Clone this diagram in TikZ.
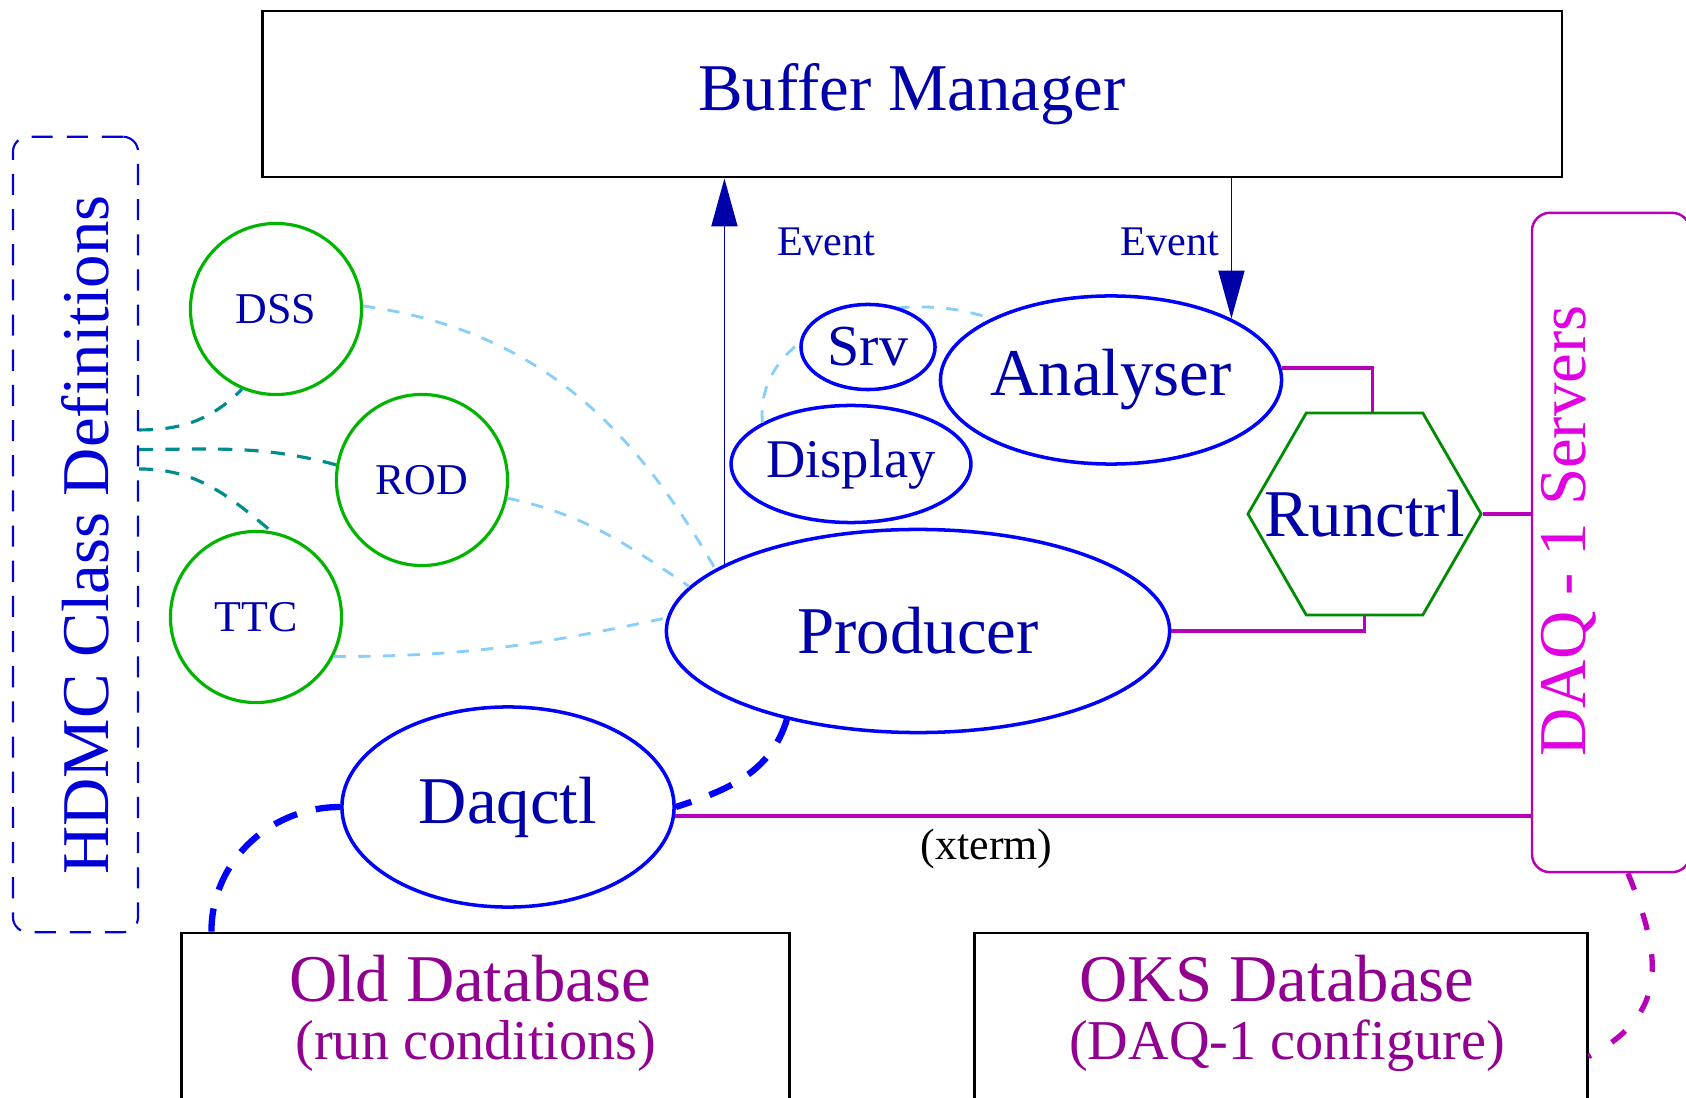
\documentclass[tikz,border=0pt]{standalone}
\usepackage{fontspec}
\setmainfont{Liberation Serif}
\usetikzlibrary{shapes.geometric,arrows.meta,positioning}

\definecolor{nodeblue}{RGB}{0,0,170}
\definecolor{lineblue}{RGB}{0,0,255}
\definecolor{classblue}{RGB}{0,0,215}
\definecolor{circgreen}{RGB}{0,180,0}
\definecolor{hexgreen}{RGB}{0,140,0}
\definecolor{linkmag}{RGB}{185,0,185}
\definecolor{servmag}{RGB}{225,0,225}
\definecolor{dbpurple}{RGB}{145,0,145}
\definecolor{skyline}{RGB}{135,206,250}
\definecolor{tealline}{RGB}{0,140,140}

\newcommand{\txtsize}[1]{\fontsize{#1}{#1}\selectfont}

\begin{document}
\begin{tikzpicture}[x=0.01cm,y=-0.01cm,
  box/.style={draw=black,line width=0.8pt,inner sep=0pt},
  proc/.style={ellipse,draw=lineblue,line width=1pt,fill=white,inner sep=0pt,text=nodeblue},
  hdw/.style={circle,draw=circgreen,line width=0.9pt,inner sep=0pt,minimum size=1.71cm,text=nodeblue,font=\txtsize{12.5}},
  classlink/.style={draw=tealline,line width=0.9pt,dash pattern=on 4pt off 3.5pt},
  swlink/.style={draw=skyline,line width=0.8pt,dash pattern=on 3.5pt off 3.5pt},
  dblink/.style={draw=lineblue,line width=1.8pt,dash pattern=on 7pt off 5.5pt},
  cfglink/.style={draw=linkmag,line width=1.5pt,dash pattern=on 5pt off 7pt},
  ctrllink/.style={draw=linkmag,line width=1pt},
  evlink/.style={draw=nodeblue,line width=0.5pt,-{Triangle[length=0.48cm,width=0.26cm]}},
  evtext/.style={text=nodeblue,font=\txtsize{12}}]
  \useasboundingbox (0,0) rectangle (1686,1098);

  % boxes
  \node[box,minimum width=12.99cm,minimum height=1.66cm,text=nodeblue,font=\txtsize{19}] (bm) at (912,94) {Buffer Manager};
  \node[draw=classblue,line width=0.6pt,dash pattern=on 6pt off 4pt,rounded corners=0.15cm,minimum width=1.25cm,minimum height=7.95cm] (hdmc) at (75.5,534.5) {};
  \node[rotate=90,text=classblue,font=\txtsize{19}] (hdmctext) at (85,535) {HDMC Class Definitions};
  \node[draw=linkmag,line width=0.7pt,rounded corners=0.18cm,minimum width=1.58cm,minimum height=6.59cm] (daq) at (1611,542.5) {};
  \node[rotate=90,text=servmag,font=\txtsize{19}] (daqtext) at (1569,531) {DAQ - 1 Servers};
  \node[box,minimum width=6.07cm,minimum height=2cm] (olddb) at (485.5,1033) {};
  \node[text=dbpurple,font=\txtsize{19}] (oldname) at (470,979) {Old Database};
  \node[text=dbpurple,font=\txtsize{16}] (oldnote) at (476,1046) {(run conditions)};
  \node[box,minimum width=6.12cm,minimum height=2cm] (oks) at (1281,1033) {};
  \node[text=dbpurple,font=\txtsize{19}] (oksname) at (1277,979) {OKS Database};
  \node[text=dbpurple,font=\txtsize{16}] (oksnote) at (1287,1046) {(DAQ-1 configure)};

  % hardware
  \node[hdw] (dss) at (276,309) {DSS};
  \node[hdw] (rod) at (422,480) {ROD};
  \node[hdw] (ttc) at (256,617) {TTC};

  % processes
  \node[proc,minimum width=3.36cm,minimum height=1.68cm,font=\txtsize{19}] (ana) at (1111,380) {Analyser};
  \node[proc,minimum width=2.37cm,minimum height=1.17cm,font=\txtsize{15.5}] (disp) at (851,464) {Display};
  \node[proc,minimum width=5.03cm,minimum height=2.03cm,font=\txtsize{19}] (prod) at (918,631) {Producer};
  \node[proc,minimum width=3.32cm,minimum height=2cm,font=\txtsize{19}] (dq) at (508,807) {Daqctl};
  \draw[swlink] (disp.155) to[out=95,in=160] (ana.153);
  \node[proc,minimum width=1.34cm,minimum height=0.85cm,font=\txtsize{16.5}] (srv) at (868,347) {Srv};
  \node[regular polygon,regular polygon sides=6,draw=hexgreen,line width=0.8pt,minimum size=2.33cm,inner sep=0pt,
    label={[text=nodeblue,font=\txtsize{19}]center:Runctrl}] (run) at (1364.5,514) {};

  % class definitions
  \draw[classlink] ([yshift=1.045cm]hdmc.east) to[out=0,in=225] (dss.247);
  \draw[classlink] ([yshift=0.85cm]hdmc.east) to[out=0,in=165] (rod.170);
  \draw[classlink] ([yshift=0.655cm]hdmc.east) to[out=0,in=140] (ttc.80);

  % hardware to producer
  \draw[swlink] (dss.2) to[out=-8,in=120] (prod.163);
  \draw[swlink] (rod.-12) to[out=-12,in=146] (prod.169);
  \draw[swlink] (ttc.-27) to[out=0,in=192] (prod.177);

  % events
  \draw[evlink] (prod.161) -- (prod.161 |- bm.south) node[evtext,pos=0.835,right=0.4cm] {Event};
  \draw[evlink] (ana.27 |- bm.south) -- (ana.27) node[evtext,pos=0.45,left] {Event};

  % run control
  \draw[ctrllink] (ana.4) -| ([xshift=0.08cm]run.north);
  \draw[ctrllink] (prod.east) -| (run.south);
  \draw[ctrllink] (run.east) -- (run.east -| daq.west);
  \draw[ctrllink] (dq.-3) -- (dq.-3 -| daq.west) node[pos=0.364,below,font=\txtsize{12.5}] {(xterm)};

  % databases
  \draw[dblink] (prod.214) to[out=-107,in=18] (dq.east);
  \draw[dblink] (dq.west) to[out=180,in=90] ([xshift=0.31cm]olddb.north west);
  \draw[cfglink] ([xshift=0.17cm]daq.south) to[out=-68,in=28,looseness=1.25] ([yshift=-1.25cm]oks.north east);
\end{tikzpicture}
\end{document}
